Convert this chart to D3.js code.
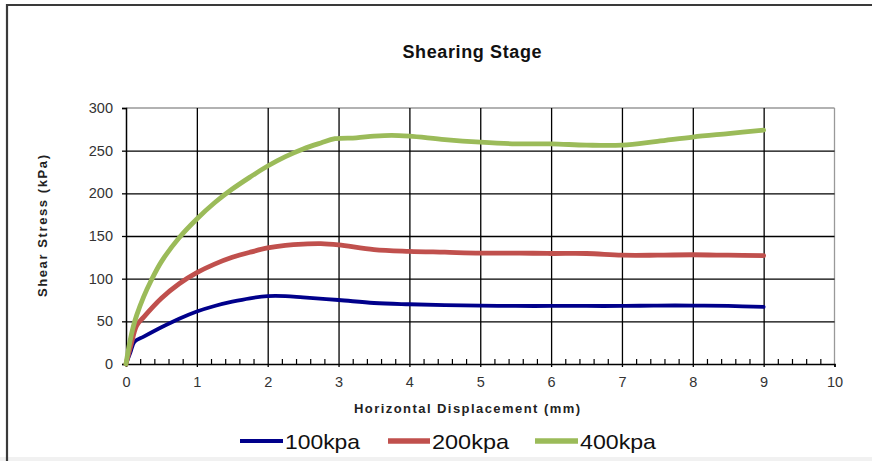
<!DOCTYPE html>
<html>
<head>
<meta charset="utf-8">
<script src="https://cdn.jsdelivr.net/npm/d3@7"></script>
<style>
  html, body { margin: 0; padding: 0; background: #fff; }
  svg { display: block; font-family: "Liberation Sans", Arial, sans-serif; }
</style>
</head>
<body>
<svg id="chart" width="872" height="461"></svg>
<script>
// ---- data ----
const xTicks = [0, 1, 2, 3, 4, 5, 6, 7, 8, 9, 10];
const yTicks = [0, 50, 100, 150, 200, 250, 300];
const seriesNames = ["100kpa", "200kpa", "400kpa"];
const seriesColors = ["#00008b", "#c0504d", "#9bbb59"];

const x100 = [0, 0.06, 0.12, 0.25, 0.5, 0.75, 1, 1.25, 1.5, 1.75, 2, 2.25, 2.5, 3, 3.5, 4, 4.5, 5, 5.5, 6, 6.5, 7, 7.5, 8, 8.5, 9];
const y100 = [0, 13, 26, 32, 43, 53, 61.5, 68, 73, 77, 79.5, 79.5, 78, 75, 71.5, 70, 69, 68.5, 68, 68, 68, 68, 68.5, 68.5, 68, 67];

const x200 = [0, 0.07, 0.15, 0.25, 0.5, 0.75, 1, 1.25, 1.5, 1.75, 2, 2.25, 2.5, 2.75, 3, 3.5, 4, 4.5, 5, 5.5, 6, 6.5, 7, 7.5, 8, 8.5, 9];
const y200 = [0, 22, 45, 55, 77, 94, 107, 117, 125, 131, 136, 139, 140.5, 141, 139.5, 134, 132, 131, 130, 130, 129.5, 129.5, 127.5, 127.5, 128, 127.5, 127];

const x400 = [0, 0.05, 0.1, 0.15, 0.25, 0.35, 0.5, 0.75, 1, 1.25, 1.5, 1.75, 2, 2.25, 2.5, 2.75, 2.95, 3.25, 3.5, 3.75, 4, 4.5, 5, 5.5, 6, 6.5, 7, 7.5, 8, 8.5, 9];
const y400 = [0, 24, 43, 57, 79, 97, 120, 148, 170, 189, 205, 219, 232, 243, 252, 259, 264, 265, 267, 268, 267, 263, 260, 258, 258, 256.5, 256.5, 261, 266, 270, 274];

const seriesX = [x100, x200, x400];
const seriesY = [y100, y200, y400];

// ---- layout ----
const svg = d3.select("#chart");
const x = d3.scaleLinear().domain([0, 10]).range([126, 834.5]);
const y = d3.scaleLinear().domain([0, 300]).range([364, 108]);

// outer frame (top and left edges)
svg.append("rect").attr("x", 0).attr("y", 457).attr("width", 872).attr("height", 4).attr("fill", "#f1f1f1");
svg.append("line").attr("x1", 7).attr("x2", 872).attr("y1", 5).attr("y2", 5).attr("stroke", "#3a3a3a").attr("stroke-width", 2.2);
svg.append("line").attr("x1", 7).attr("x2", 7).attr("y1", 4).attr("y2", 461).attr("stroke", "#3a3a3a").attr("stroke-width", 2.2);

// title
svg.append("text").attr("x", 472).attr("y", 58).attr("text-anchor", "middle")
  .attr("font-size", 18).attr("font-weight", "bold").attr("fill", "#111")
  .attr("textLength", 139).attr("lengthAdjust", "spacing")
  .text("Shearing Stage");

// plot border (top and right in grey)
svg.append("line").attr("x1", x(0)).attr("x2", x(10)).attr("y1", y(300)).attr("y2", y(300)).attr("stroke", "#999").attr("stroke-width", 1.3);
svg.append("line").attr("x1", x(10)).attr("x2", x(10)).attr("y1", y(300)).attr("y2", y(0)).attr("stroke", "#999").attr("stroke-width", 1.3);

// vertical gridlines
const gx = svg.append("g").attr("transform", `translate(0,${y(0)})`)
  .call(d3.axisBottom(x).tickValues(xTicks.filter(d => d > 0 && d < 10)).tickSize(-(y(0) - y(300))).tickFormat(""));
gx.select(".domain").remove();
gx.selectAll("line").attr("stroke", "#000").attr("stroke-width", 1.3);

// horizontal gridlines
const gy = svg.append("g").attr("transform", `translate(${x(0)},0)`)
  .call(d3.axisLeft(y).tickValues(yTicks.filter(d => d > 0 && d < 300)).tickSize(-(x(10) - x(0))).tickFormat(""));
gy.select(".domain").remove();
gy.selectAll("line").attr("stroke", "#000").attr("stroke-width", 1.3);

// minor x ticks (inside)
const minor = d3.range(0, 10.001, 0.2).map(d => +d.toFixed(1)).filter(d => Math.abs(d - Math.round(d)) > 1e-6);
const gm = svg.append("g").attr("transform", `translate(0,${y(0)})`)
  .call(d3.axisBottom(x).tickValues(minor).tickSize(-5).tickFormat(""));
gm.select(".domain").remove();
gm.selectAll("line").attr("stroke", "#000").attr("stroke-width", 1.2);

// x axis
const ax = svg.append("g").attr("transform", `translate(0,${y(0)})`)
  .call(d3.axisBottom(x).tickValues(xTicks).tickSize(3).tickPadding(10));
ax.select(".domain").attr("stroke", "#000").attr("stroke-width", 1.5);
ax.selectAll("line").attr("stroke", "#000").attr("stroke-width", 1.3);
ax.selectAll("text").attr("font-size", 14.5).attr("fill", "#333").attr("font-family", "Liberation Sans, Arial, sans-serif");

// y axis
const ay = svg.append("g").attr("transform", `translate(${x(0)},0)`)
  .call(d3.axisLeft(y).tickValues(yTicks).tickSize(4).tickPadding(9));
ay.select(".domain").attr("stroke", "#000").attr("stroke-width", 1.5);
ay.selectAll("line").attr("stroke", "#000").attr("stroke-width", 1.3);
ay.selectAll("text").attr("font-size", 14.5).attr("fill", "#333").attr("font-family", "Liberation Sans, Arial, sans-serif");

// axis titles
svg.append("text").attr("x", 467).attr("y", 413).attr("text-anchor", "middle")
  .attr("font-size", 13).attr("font-weight", "bold").attr("fill", "#222")
  .attr("textLength", 226).attr("lengthAdjust", "spacing")
  .text("Horizontal Displacement (mm)");
svg.append("text").attr("transform", "translate(47,226) rotate(-90)").attr("text-anchor", "middle")
  .attr("font-size", 13).attr("font-weight", "bold").attr("fill", "#222")
  .attr("textLength", 142).attr("lengthAdjust", "spacing")
  .text("Shear Stress (kPa)");

// lines
const widths = [3.8, 4.8, 4.8];
const line = d3.line().x(d => x(d[0])).y(d => y(d[1])).curve(d3.curveCatmullRom.alpha(0.5));
seriesNames.forEach((name, i) => {
  const pts = seriesX[i].map((v, j) => [v, seriesY[i][j]]);
  svg.append("path").datum(pts).attr("d", line)
    .attr("fill", "none").attr("stroke", seriesColors[i]).attr("stroke-width", widths[i])
    .attr("stroke-linejoin", "round").attr("stroke-linecap", "round");
});

// legend
const legX = [240, 388, 535];
const legW = [43, 42, 43];
const legTL = [75, 77, 76];
const legLW = [4, 5.5, 5.5];
seriesNames.forEach((name, i) => {
  svg.append("line").attr("x1", legX[i]).attr("x2", legX[i] + legW[i]).attr("y1", 441).attr("y2", 441)
    .attr("stroke", seriesColors[i]).attr("stroke-width", legLW[i]);
  svg.append("text").attr("x", legX[i] + legW[i] + 2).attr("y", 448.5)
    .attr("font-size", 21).attr("fill", "#111")
    .attr("textLength", legTL[i]).attr("lengthAdjust", "spacingAndGlyphs")
    .text(name);
});
</script>
</body>
</html>
